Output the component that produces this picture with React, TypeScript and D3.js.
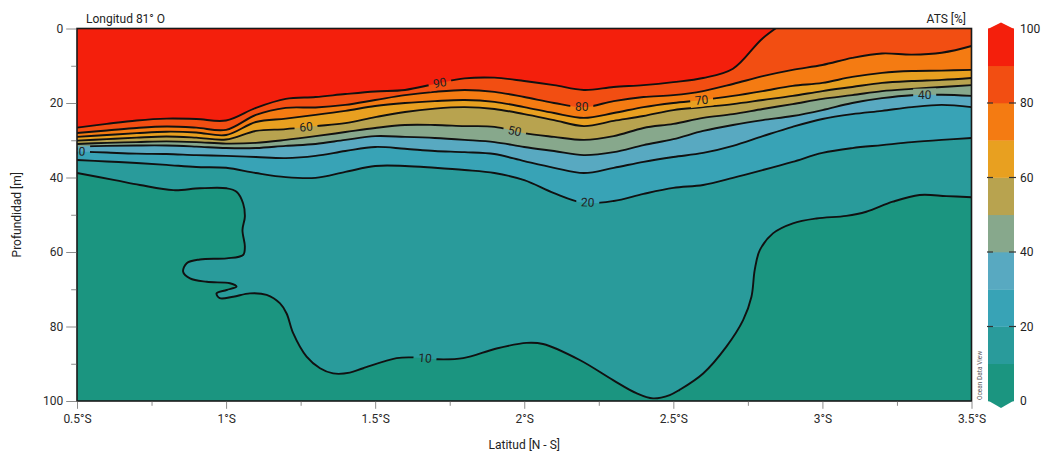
import React, { useEffect, useRef } from 'react';
import * as d3 from 'd3';

// ---------- data ----------
const latitudes = [0.5, 0.6, 0.7, 0.8, 0.9, 1.0, 1.1, 1.2, 1.3, 1.4, 1.5, 1.6, 1.7, 1.8, 1.9, 2.0, 2.1, 2.2, 2.3, 2.4, 2.5, 2.6, 2.7, 2.8, 2.9, 3.0, 3.1, 3.2, 3.3, 3.4, 3.5];

const depth90 = [26.6, 25.6, 24.7, 24.2, 24.3, 24.7, 21.3, 18.9, 18.4, 17.6, 16.9, 16.5, 14.9, 13.4, 13.2, 14.1, 15.2, 16.5, 15.7, 15.2, 14.4, 13.3, 10.8, 2.6, -3.2, -9, -12, -12, -12, -12, -12];
const depth80 = [28.05, 27.4, 26.7, 26.3, 26.6, 27.2, 23.2, 21.3, 21.2, 20.5, 19.2, 17.9, 17.0, 16.5, 17.0, 18.4, 20.0, 21.1, 19.5, 18.4, 17.9, 16.8, 14.9, 12.8, 11.1, 9.8, 7.9, 6.7, 7.0, 6.5, 4.7];
const depth70 = [29.1, 28.6, 28.1, 27.7, 27.9, 28.6, 25.1, 24.2, 23.2, 22.1, 20.8, 20.0, 19.5, 19.2, 19.7, 21.1, 22.7, 24.0, 22.7, 21.1, 20.0, 19.2, 18.1, 16.8, 15.4, 14.6, 13.0, 11.9, 11.4, 11.3, 11.1];
const depth60 = [30.1, 29.7, 29.3, 29.0, 29.3, 29.8, 27.5, 27.0, 26.2, 25.4, 23.8, 22.4, 21.5, 21.1, 21.6, 23.0, 24.6, 26.2, 24.8, 23.5, 21.9, 21.1, 20.3, 19.2, 18.1, 16.8, 15.7, 14.6, 14.1, 13.8, 13.3];
const depth50 = [31.0, 30.7, 30.5, 30.3, 30.5, 30.9, 30.7, 29.9, 28.9, 27.8, 26.7, 25.9, 25.9, 26.2, 26.4, 28.1, 29.1, 29.9, 28.9, 26.7, 25.6, 24.0, 23.0, 21.6, 20.3, 18.9, 17.9, 16.8, 16.2, 15.7, 15.2];
const depth40 = [31.7, 31.5, 31.4, 31.4, 31.7, 32.1, 32.1, 31.5, 31.0, 29.9, 28.9, 29.1, 29.4, 29.9, 30.5, 31.8, 32.9, 34.0, 33.2, 31.3, 29.7, 27.5, 25.9, 24.6, 23.5, 21.9, 20.0, 18.7, 17.9, 17.8, 18.1];
const depth30 = [33.0, 33.3, 33.6, 33.7, 34.0, 34.2, 34.5, 34.8, 34.2, 32.9, 31.8, 32.3, 32.9, 33.2, 33.7, 35.6, 37.4, 38.8, 37.4, 35.8, 34.5, 33.4, 31.5, 28.9, 26.4, 24.3, 23.0, 22.1, 21.1, 20.5, 21.1];
const depth20 = [35.3, 35.7, 36.1, 36.6, 37.2, 37.4, 38.8, 39.9, 40.1, 38.5, 36.9, 36.9, 37.4, 38.0, 38.8, 40.7, 44.2, 46.8, 46.3, 44.4, 42.8, 42.0, 40.1, 38.0, 35.8, 33.4, 32.1, 31.3, 30.5, 29.9, 29.4];

// 10 % contour (folds back on itself, so kept as a point list)
const contour10Lat = [0.5, 0.627, 0.711, 0.823, 0.912, 1.002, 1.035, 1.057, 1.063, 1.055, 1.063, 1.057, 1.002, 0.912, 0.868, 0.856, 0.879, 0.935, 1.013, 1.035, 1.002, 0.968, 0.979, 1.024, 1.08, 1.136, 1.181, 1.203, 1.225, 1.27, 1.315, 1.359, 1.415, 1.46, 1.572, 1.627, 1.706, 1.795, 1.907, 2.008, 2.063, 2.186, 2.298, 2.376, 2.432, 2.488, 2.521, 2.6, 2.678, 2.734, 2.762, 2.773, 2.79, 2.834, 2.901, 2.98, 3.08, 3.147, 3.236, 3.326, 3.416, 3.5];
const contour10Depth = [38.8, 40.7, 42.0, 43.4, 42.9, 42.9, 43.8, 46.9, 50.5, 54.1, 58.6, 60.8, 61.7, 62.0, 63.0, 65.3, 67.1, 68.0, 68.4, 69.3, 70.2, 71.1, 72.4, 72.0, 71.1, 71.5, 73.8, 76.5, 81.8, 88.1, 91.2, 92.6, 92.4, 91.2, 88.5, 88.3, 88.8, 88.5, 85.9, 84.4, 84.7, 89.0, 94.4, 97.9, 99.3, 98.4, 97.0, 92.6, 85.4, 78.3, 72.0, 64.8, 59.5, 55.0, 52.3, 51.0, 50.3, 49.2, 46.5, 44.7, 45.0, 45.3];

const binColors = ['#1b9580', '#299b9b', '#38a3b6', '#58a9c1', '#87a88c', '#b8a34f', '#e8a020', '#f47b12', '#f24e12', '#f41f0c'];

const labelLevels = [90, 80, 70, 60, 50, 40, 30, 20, 10];
const labelLats = [1.717, 2.193, 2.595, 1.268, 1.968, 3.343, 0.505, 2.213, 1.667];

const xTickValues = [0.5, 1, 1.5, 2, 2.5, 3, 3.5];
const xTickLabels = ['0.5°S', '1°S', '1.5°S', '2°S', '2.5°S', '3°S', '3.5°S'];
const xMinorTicks = [0.75, 1.25, 1.75, 2.25, 2.75, 3.25];
const yTickValues = [0, 20, 40, 60, 80, 100];
const yMinorTicks = [10, 30, 50, 70, 90];
const cbTickValues = [0, 20, 40, 60, 80, 100];
const cbInnerTicks = [20, 40, 60, 80];

// ---------- layout ----------
const W = 1041;
const H = 453;
const PL = 77;
const PR = 971.5;
const PT = 28.5;
const PB = 401;
const CBL = 988;
const CBR = 1014;
const FONT = 'Roboto, "DejaVu Sans", sans-serif';

export default function App() {
  const xAxisRef = useRef<SVGGElement>(null);
  const xMinorRef = useRef<SVGGElement>(null);
  const yAxisRef = useRef<SVGGElement>(null);
  const yMinorRef = useRef<SVGGElement>(null);

  const x = d3.scaleLinear().domain([0.5, 3.5]).range([PL, PR]);
  const y = d3.scaleLinear().domain([0, 100]).range([PT, PB]);
  const cb = d3.scaleLinear().domain([0, 100]).range([PB, PT]);
  const curve = d3.curveCatmullRom.alpha(0.5);

  const contours = [
    { level: 20, depths: depth20 },
    { level: 30, depths: depth30 },
    { level: 40, depths: depth40 },
    { level: 50, depths: depth50 },
    { level: 60, depths: depth60 },
    { level: 70, depths: depth70 },
    { level: 80, depths: depth80 },
    { level: 90, depths: depth90 },
  ];

  const areaGen = d3
    .area<number>()
    .x((_, i) => x(latitudes[i]))
    .y0(y(-15))
    .y1((d) => y(d))
    .curve(curve);
  const lineGen = d3
    .line<number>()
    .x((_, i) => x(latitudes[i]))
    .y((d) => y(d))
    .curve(curve);

  const pts10: [number, number][] = contour10Lat.map((l, i) => [x(l), y(contour10Depth[i])]);
  const line10 = d3.line().curve(curve)(pts10) || '';
  const poly10 = `${line10}L${x(3.5)},${y(-15)}L${x(0.5)},${y(-15)}Z`;

  const depthAt = (level: number, lat: number): number => {
    if (level === 10) {
      let res = contour10Depth[0];
      for (let i = 0; i < contour10Lat.length - 1; i++) {
        const a = contour10Lat[i];
        const b = contour10Lat[i + 1];
        if ((a - lat) * (b - lat) <= 0 && a !== b) {
          const t = (lat - a) / (b - a);
          res = contour10Depth[i] + t * (contour10Depth[i + 1] - contour10Depth[i]);
        }
      }
      return res;
    }
    const c = contours.find((k) => k.level === level)!;
    return d3.scaleLinear().domain(latitudes).range(c.depths).clamp(true)(lat);
  };

  const labels = labelLevels.map((level, i) => {
    const lat = labelLats[i];
    const px = x(lat);
    const py = y(depthAt(level, lat));
    const dl = 0.03;
    const ax = x(lat - dl);
    const ay = y(depthAt(level, lat - dl));
    const bx = x(lat + dl);
    const by = y(depthAt(level, lat + dl));
    const angle = (Math.atan2(by - ay, bx - ax) * 180) / Math.PI;
    return { level, px, py, angle };
  });

  useEffect(() => {
    const styleAxis = (g: d3.Selection<SVGGElement, unknown, null, undefined>) => {
      g.select('.domain').remove();
      g.attr('font-family', FONT).attr('font-size', 12);
      g.selectAll('line').attr('stroke', '#8c8c8c').attr('stroke-width', 1);
      g.selectAll('text').attr('fill', '#2a2a2a');
    };
    if (xAxisRef.current) {
      const g = d3.select(xAxisRef.current);
      g.selectAll('*').remove();
      g.call(
        d3
          .axisBottom(x)
          .tickValues(xTickValues)
          .tickFormat((_, i) => xTickLabels[i])
          .tickSize(7)
          .tickPadding(6)
      );
      styleAxis(g);
    }
    if (xMinorRef.current) {
      const g = d3.select(xMinorRef.current);
      g.selectAll('*').remove();
      g.call(d3.axisBottom(x).tickValues(xMinorTicks).tickFormat(() => '').tickSize(4));
      styleAxis(g);
    }
    if (yAxisRef.current) {
      const g = d3.select(yAxisRef.current);
      g.selectAll('*').remove();
      g.call(
        d3
          .axisLeft(y)
          .tickValues(yTickValues)
          .tickFormat((d) => String(d))
          .tickSize(10)
          .tickPadding(3)
      );
      styleAxis(g);
    }
    if (yMinorRef.current) {
      const g = d3.select(yMinorRef.current);
      g.selectAll('*').remove();
      g.call(d3.axisLeft(y).tickValues(yMinorTicks).tickFormat(() => '').tickSize(5));
      styleAxis(g);
    }
  }, []);

  const binEdges = d3.range(binColors.length);

  return (
    <svg
      width={W}
      height={H}
      viewBox={`0 0 ${W} ${H}`}
      style={{ position: 'absolute', left: 0, top: 0, background: '#ffffff' }}
      fontFamily={FONT}
    >
      <defs>
        <clipPath id="plotClip">
          <rect x={PL} y={PT} width={PR - PL} height={PB - PT} />
        </clipPath>
        <mask id="labelGaps" maskUnits="userSpaceOnUse" x={0} y={0} width={W} height={H}>
          <rect x={0} y={0} width={W} height={H} fill="white" />
          {labels.map((l, i) => (
            <rect
              key={i}
              x={-11.5}
              y={-6.5}
              width={23}
              height={13}
              fill="black"
              transform={`translate(${l.px},${l.py}) rotate(${l.angle})`}
            />
          ))}
        </mask>
      </defs>

      <g clipPath="url(#plotClip)">
        <rect x={PL} y={PT} width={PR - PL} height={PB - PT} fill={binColors[0]} />
        <path d={poly10} fill={binColors[1]} />
        {contours.map((c) => (
          <path key={c.level} d={areaGen(c.depths) || ''} fill={binColors[c.level / 10]} />
        ))}
        <g mask="url(#labelGaps)" fill="none" stroke="#111" strokeWidth={1.9} strokeLinejoin="round">
          <path d={line10} />
          {contours.map((c) => (
            <path key={c.level} d={lineGen(c.depths) || ''} />
          ))}
        </g>
        {labels.map((l, i) => (
          <text
            key={i}
            x={0}
            y={0}
            transform={`translate(${l.px},${l.py}) rotate(${l.angle})`}
            textAnchor="middle"
            dominantBaseline="central"
            fontSize={12}
            fill="#222"
          >
            {l.level}
          </text>
        ))}
      </g>

      <rect x={PL} y={PT} width={PR - PL} height={PB - PT} fill="none" stroke="#1a1a1a" strokeWidth={1.6} />

      <g ref={xAxisRef} transform={`translate(0,${PB + 0.8})`} />
      <g ref={xMinorRef} transform={`translate(0,${PB + 0.8})`} />
      <g ref={yAxisRef} transform={`translate(${PL - 0.8},0)`} />
      <g ref={yMinorRef} transform={`translate(${PL - 0.8},0)`} />

      <text x={86} y={23} fontSize={12} fill="#222">
        Longitud 81° O
      </text>
      <text x={966} y={23} fontSize={12} fill="#222" textAnchor="end">
        ATS [%]
      </text>
      <text x={(PL + PR) / 2} y={449} fontSize={12} fill="#222" textAnchor="middle">
        Latitud [N - S]
      </text>
      <text
        transform={`translate(21,${(PT + PB) / 2}) rotate(-90)`}
        fontSize={12}
        fill="#222"
        textAnchor="middle"
      >
        Profundidad [m]
      </text>
      <text
        transform={`translate(982,${PB - 1}) rotate(-90)`}
        fontSize={6.5}
        fill="#555"
      >
        Ocean Data View
      </text>

      {/* colour bar */}
      <g>
        {binEdges.map((i) => (
          <rect
            key={i}
            x={CBL}
            y={cb((i + 1) * 10)}
            width={CBR - CBL}
            height={cb(i * 10) - cb((i + 1) * 10) + 0.3}
            fill={binColors[i]}
          />
        ))}
        <path
          d={`M${CBL},${cb(100) + 0.5}L${(CBL + CBR) / 2},${cb(100) - 6}L${CBR},${cb(100) + 0.5}Z`}
          fill={binColors[9]}
        />
        <path
          d={`M${CBL},${cb(0) - 0.5}L${(CBL + CBR) / 2},${cb(0) + 7}L${CBR},${cb(0) - 0.5}Z`}
          fill={binColors[0]}
        />
        {cbInnerTicks.map((v) => (
          <g key={v} stroke="#333" strokeWidth={1.2}>
            <line x1={CBL - 1} x2={CBL + 5} y1={cb(v)} y2={cb(v)} />
            <line x1={CBR - 5} x2={CBR + 2} y1={cb(v)} y2={cb(v)} />
          </g>
        ))}
        {cbTickValues.map((v) => (
          <text key={v} x={1020} y={cb(v)} dominantBaseline="central" fontSize={12} fill="#222">
            {v}
          </text>
        ))}
      </g>
    </svg>
  );
}
